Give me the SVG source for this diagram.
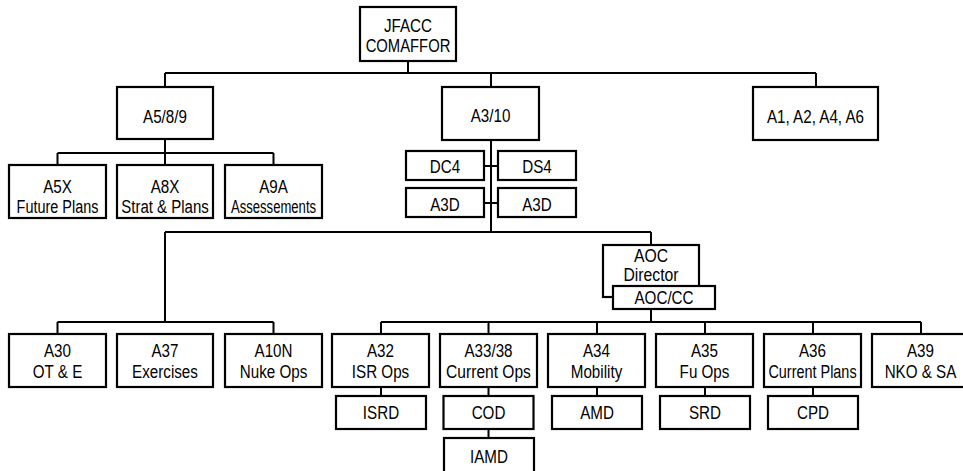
<svg xmlns="http://www.w3.org/2000/svg" width="963" height="471" viewBox="0 0 963 471">
<style>
.b{fill:#fff;stroke:#000;stroke-width:2.2}
.t{font-family:"Liberation Sans",Arial,sans-serif;font-size:19px;fill:#000;text-anchor:middle}
.c{fill:none;stroke:#000;stroke-width:2}
</style>
<rect width="963" height="471" fill="#fff"/>
<g id="connectors" class="c">
<path d="M408 61V73M165 73H816M165 73V87M491 73V87M816 73V87"/>
<path d="M165 139V153M57.5 153H273.5M57.5 153V165M165 153V165M273.5 153V165"/>
<path d="M491 140V232M484 166H498M484 203H498"/>
<path d="M165 232H651M165 232V322M57.5 322H273.5M57.5 322V334M273.5 322V334M651 232V245"/>
<path d="M651 309V322M381 322H921M381 322V334M488.5 322V334M597 322V334M705 322V334M813 322V334M921 322V334"/>
<path d="M381 387V396M488.5 387V396M488.5 429V438M597 387V396M705 387V396M813 387V396"/>
</g>
<g id="jfacc"><rect class="b" x="360" y="7" width="96" height="54"/><text class="t" transform="matrix(.8 0 0 1 408 32)">JFACC</text><text class="t" transform="matrix(.78 0 0 1 408 52)">COMAFFOR</text></g>
<g id="a589"><rect class="b" x="117" y="87" width="96" height="52"/><text class="t" transform="matrix(.8 0 0 1 165 123)">A5/8/9</text></g>
<g id="a310"><rect class="b" x="442" y="87" width="97" height="53"/><text class="t" transform="matrix(.8 0 0 1 490.5 122)">A3/10</text></g>
<g id="a1246"><rect class="b" x="753" y="87" width="125" height="53"/><text class="t" transform="matrix(.8 0 0 1 815.5 123)">A1, A2, A4, A6</text></g>
<g id="a5x"><rect class="b" x="9" y="165" width="97" height="53"/><text class="t" transform="matrix(.8 0 0 1 57.5 193)">A5X</text><text class="t" transform="matrix(.76 0 0 1 57.5 213)">Future Plans</text></g>
<g id="a8x"><rect class="b" x="117" y="165" width="96" height="53"/><text class="t" transform="matrix(.8 0 0 1 165 193)">A8X</text><text class="t" transform="matrix(.79 0 0 1 165 213)">Strat &amp; Plans</text></g>
<g id="a9a"><rect class="b" x="225" y="165" width="97" height="53"/><text class="t" transform="matrix(.8 0 0 1 273.5 193)">A9A</text><text class="t" transform="matrix(.69 0 0 1 273.5 213)">Assessements</text></g>
<g id="dc4"><rect class="b" x="406" y="151" width="78" height="29"/><text class="t" transform="matrix(.8 0 0 1 445 173)">DC4</text></g>
<g id="ds4"><rect class="b" x="498" y="151" width="78" height="29"/><text class="t" transform="matrix(.8 0 0 1 537 173)">DS4</text></g>
<g id="a3d1"><rect class="b" x="406" y="188" width="78" height="29"/><text class="t" transform="matrix(.8 0 0 1 445 211)">A3D</text></g>
<g id="a3d2"><rect class="b" x="498" y="188" width="78" height="29"/><text class="t" transform="matrix(.8 0 0 1 537 211)">A3D</text></g>
<g id="aocdir"><rect class="b" x="603" y="245" width="96" height="52"/><text class="t" style="font-size:17.5px" transform="matrix(.9 0 0 1 651 262)">AOC</text><text class="t" style="font-size:17.5px" transform="matrix(.9 0 0 1 651 280.5)">Director</text></g>
<g id="aoccc"><rect class="b" x="613" y="286" width="102" height="23"/><text class="t" transform="matrix(.8 0 0 1 664 304)">AOC/CC</text></g>
<g id="a30"><rect class="b" x="9" y="334" width="97" height="53"/><text class="t" transform="matrix(.8 0 0 1 57.5 357)">A30</text><text class="t" transform="matrix(.8 0 0 1 57.5 378)">OT &amp; E</text></g>
<g id="a37"><rect class="b" x="117" y="334" width="96" height="53"/><text class="t" transform="matrix(.8 0 0 1 165 357)">A37</text><text class="t" transform="matrix(.8 0 0 1 165 378)">Exercises</text></g>
<g id="a10n"><rect class="b" x="225" y="334" width="97" height="53"/><text class="t" transform="matrix(.8 0 0 1 273.5 357)">A10N</text><text class="t" transform="matrix(.8 0 0 1 273.5 378)">Nuke Ops</text></g>
<g id="a32"><rect class="b" x="332" y="334" width="97" height="53"/><text class="t" transform="matrix(.8 0 0 1 380.5 357)">A32</text><text class="t" transform="matrix(.8 0 0 1 380.5 378)">ISR Ops</text></g>
<g id="a3338"><rect class="b" x="440" y="334" width="97" height="53"/><text class="t" transform="matrix(.8 0 0 1 488.5 357)">A33/38</text><text class="t" transform="matrix(.82 0 0 1 488.5 378)">Current Ops</text></g>
<g id="a34"><rect class="b" x="548" y="334" width="97" height="53"/><text class="t" transform="matrix(.8 0 0 1 596.5 357)">A34</text><text class="t" transform="matrix(.8 0 0 1 596.5 378)">Mobility</text></g>
<g id="a35"><rect class="b" x="656" y="334" width="97" height="53"/><text class="t" transform="matrix(.8 0 0 1 704.5 357)">A35</text><text class="t" transform="matrix(.8 0 0 1 704.5 378)">Fu Ops</text></g>
<g id="a36"><rect class="b" x="764" y="334" width="97" height="53"/><text class="t" transform="matrix(.8 0 0 1 812.5 357)">A36</text><text class="t" transform="matrix(.76 0 0 1 812.5 378)">Current Plans</text></g>
<g id="a39"><rect class="b" x="872" y="334" width="97" height="53"/><text class="t" transform="matrix(.8 0 0 1 920.5 357)">A39</text><text class="t" transform="matrix(.8 0 0 1 920.5 378)">NKO &amp; SA</text></g>
<g id="isrd"><rect class="b" x="336" y="396" width="90" height="33"/><text class="t" transform="matrix(.8 0 0 1 381 419)">ISRD</text></g>
<g id="cod"><rect class="b" x="443.5" y="396" width="90" height="33"/><text class="t" transform="matrix(.8 0 0 1 488.5 419)">COD</text></g>
<g id="iamd"><rect class="b" x="444" y="438" width="90" height="40"/><text class="t" transform="matrix(.8 0 0 1 489 462.5)">IAMD</text></g>
<g id="amd"><rect class="b" x="552" y="396" width="90" height="33"/><text class="t" transform="matrix(.8 0 0 1 597 419)">AMD</text></g>
<g id="srd"><rect class="b" x="660" y="396" width="90" height="33"/><text class="t" transform="matrix(.8 0 0 1 705 419)">SRD</text></g>
<g id="cpd"><rect class="b" x="768" y="396" width="90" height="33"/><text class="t" transform="matrix(.8 0 0 1 813 419)">CPD</text></g>
</svg>
